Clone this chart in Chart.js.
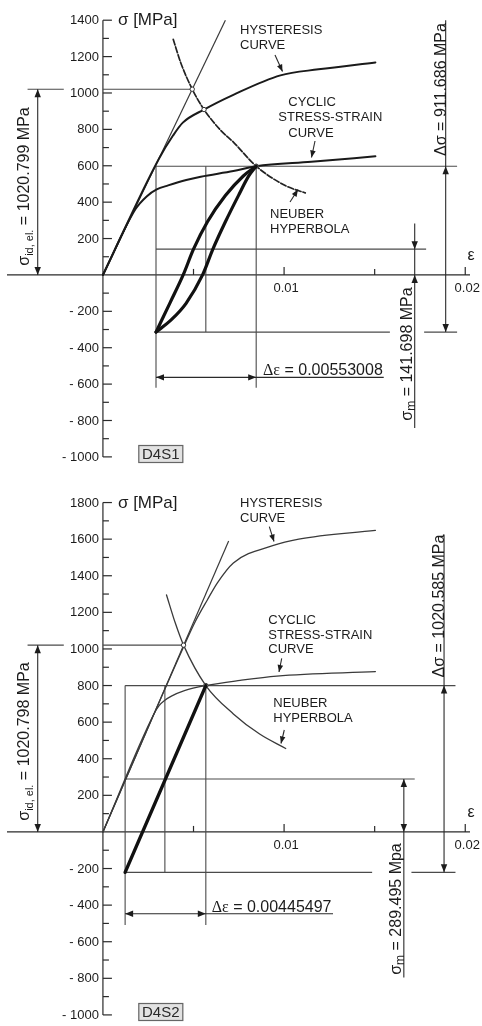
<!DOCTYPE html>
<html>
<head>
<meta charset="utf-8">
<script src="https://cdn.jsdelivr.net/npm/chart.js@4.4.1/dist/chart.umd.min.js"></script>
<style>
  html, body { margin: 0; padding: 0; background: #fff; }
  #wrap { position: relative; width: 482px; height: 1026px; overflow: hidden; background: #fff; }
  canvas { position: absolute; left: 0; }
  #cS1 { top: 0; }
  #cS2 { top: 495px; }
</style>
</head>
<body>
<div id="wrap">
  <canvas id="cS1" width="482" height="495"></canvas>
  <canvas id="cS2" width="482" height="531"></canvas>
</div>
<script>
// ---------- axis ticks (strain ε, stress σ in MPa) ----------
const strainMajorTicks  = [0.01, 0.02];
const strainMajorLabels = ['0.01', '0.02'];
const strainMinorTicks  = [0.005, 0.015];

const stressMajorTicksS1 = [-1000, -800, -600, -400, -200, 200, 400, 600, 800, 1000, 1200, 1400];
const stressMinorTicksS1 = [-900, -700, -500, -300, -100, 100, 300, 500, 700, 900, 1100, 1300];
const stressMajorTicksS2 = [-1000, -800, -600, -400, -200, 200, 400, 600, 800, 1000, 1200, 1400, 1600, 1800];
const stressMinorTicksS2 = [-900, -700, -500, -300, -100, 100, 300, 500, 700, 900, 1100, 1300, 1500, 1700];

// ---------- case D4S1: results ----------
const s1SigmaIdEl   = 1020.799;
const s1DeltaSigma  = 911.686;
const s1SigmaMean   = 141.698;
const s1DeltaEps    = 0.00553008;
const s1EpsMax      = 0.00846;
const s1SigmaMax    = s1SigmaMean + s1DeltaSigma / 2;
const s1SigmaMin    = s1SigmaMean - s1DeltaSigma / 2;
const s1EpsMin      = s1EpsMax - s1DeltaEps;

// ---------- case D4S1: curves [ε, σ] ----------
const s1Elastic    = [[0, 0], [0.00676, 1400]];
const s1Cyclic     = [[0, 0], [0.0018, 362], [0.00243, 433], [0.00297, 470], [0.0036, 492], [0.0046, 522],
                      [0.0054, 540], [0.0072, 571], [s1EpsMax, s1SigmaMax], [0.0115, 622], [0.01504, 652]];
const s1Hysteresis = [[0, 0], [0.0031, 640], [0.00387, 766], [0.00441, 837], [0.00558, 909], [0.0072, 990],
                      [0.0098, 1097], [0.0119, 1130], [0.01504, 1168]];
const s1Neuber     = [[0.00388, 1295], [0.0043, 1165], [0.00493, s1SigmaIdEl], [0.00558, 909], [0.0065, 795],
                      [0.0072, 730], [s1EpsMax, s1SigmaMax], [0.01009, 490], [0.01117, 451]];
const s1LoopLoading   = [[s1EpsMin, s1SigmaMin], [0.00369, -156], [0.00443, 0], [0.005, 141.7], [0.00577, 292],
                         [0.00676, 436], [0.00775, 544], [s1EpsMax, s1SigmaMax]];
const s1LoopUnloading = [[s1EpsMin, s1SigmaMin], [0.00378, -246], [0.00459, -156], [0.0055, 0], [0.00607, 141.7],
                         [0.00676, 292], [0.00748, 436], [0.00805, 544], [s1EpsMax, s1SigmaMax]];
const s1Nodes      = [[0.00493, s1SigmaIdEl], [0.00558, 909], [s1EpsMax, s1SigmaMax]];

// ---------- case D4S2: results ----------
const s2SigmaIdEl   = 1020.798;
const s2DeltaSigma  = 1020.585;
const s2SigmaMean   = 289.495;
const s2DeltaEps    = 0.00445497;
const s2EpsMax      = 0.00568;
const s2SigmaMax    = s2SigmaMean + s2DeltaSigma / 2;
const s2SigmaMin    = s2SigmaMean - s2DeltaSigma / 2;
const s2EpsMin      = s2EpsMax - s2DeltaEps;

// ---------- case D4S2: curves [ε, σ] ----------
const s2Elastic    = [[0, 0], [0.00694, 1590]];
const s2Cyclic     = [[0, 0], [0.0028, 642], [0.0031, 690], [0.0034, 718], [0.00378, 742], [0.0045, 772],
                      [s2EpsMax, s2SigmaMax], [0.00757, 828], [0.0096, 852], [0.01504, 876]];
const s2Hysteresis = [[0, 0], [0.0044, 1000], [0.0051, 1150], [0.00577, 1269], [0.00631, 1360], [0.0072, 1470],
                      [0.00937, 1564], [0.01081, 1600], [0.01504, 1648]];
const s2Neuber     = [[0.00351, 1295], [0.004, 1140], [0.00445, s2SigmaIdEl], [s2EpsMax, s2SigmaMax],
                      [0.0072, 645], [0.00865, 535], [0.01009, 456]];
const s2Loop       = [[s2EpsMin, s2SigmaMin], [s2EpsMax, s2SigmaMax]];
const s2Nodes      = [[0.00445, s2SigmaIdEl], [s2EpsMax, s2SigmaMax]];

// ---------- drawing helpers ----------
const SANS = '"Liberation Sans", Arial, Helvetica, sans-serif';
const SERIF = '"Liberation Serif", "Times New Roman", serif';
const INK = '#1c1c1c';

const toXY = pts => pts.map(p => ({ x: p[0], y: p[1] }));

function curve(pts, width, color, dash) {
  return {
    data: toXY(pts), borderColor: color, borderWidth: width, borderDash: dash || [],
    pointRadius: 0, fill: false, cubicInterpolationMode: 'monotone',
    borderCapStyle: 'round', borderJoinStyle: 'round'
  };
}
function straight(x1, y1, x2, y2, width, color) {
  return {
    data: [{ x: x1, y: y1 }, { x: x2, y: y2 }], borderColor: color, borderWidth: width,
    pointRadius: 0, fill: false, tension: 0, borderCapStyle: 'butt'
  };
}
function nodes(pts) {
  return {
    data: toXY(pts), showLine: false, pointRadius: 2.2, pointBorderWidth: 1,
    pointBackgroundColor: '#ffffff', pointBorderColor: '#333333', borderColor: '#333333'
  };
}

function arrowHead(ctx, tx, ty, dx, dy, len, half) {
  const n = Math.hypot(dx, dy); dx /= n; dy /= n;
  const bx = tx - dx * len, by = ty - dy * len;
  ctx.beginPath();
  ctx.moveTo(tx, ty);
  ctx.lineTo(bx - dy * half, by + dx * half);
  ctx.lineTo(bx + dy * half, by - dx * half);
  ctx.closePath();
  ctx.fill();
}
function line(ctx, x1, y1, x2, y2) {
  ctx.beginPath(); ctx.moveTo(x1, y1); ctx.lineTo(x2, y2); ctx.stroke();
}
// runs of text: [string, font, baseline shift]
function runsWidth(ctx, runs) {
  let w = 0;
  runs.forEach(r => { ctx.font = r[1]; w += ctx.measureText(r[0]).width; });
  return w;
}
function drawRuns(ctx, x, y, runs) {
  runs.forEach(r => { ctx.font = r[1]; ctx.fillText(r[0], x, y + (r[2] || 0)); x += ctx.measureText(r[0]).width; });
}
function drawRunsVertical(ctx, baseX, centerY, runs) {
  ctx.save();
  ctx.translate(baseX, centerY);
  ctx.rotate(-Math.PI / 2);
  ctx.textAlign = 'left'; ctx.textBaseline = 'alphabetic';
  drawRuns(ctx, -runsWidth(ctx, runs) / 2, 0, runs);
  ctx.restore();
}
function callout(ctx, lines, x, y0, step, arrow) {
  ctx.font = '13px ' + SANS; ctx.textAlign = 'left'; ctx.textBaseline = 'alphabetic';
  lines.forEach((t, i) => ctx.fillText(t[0], x + (t[1] || 0), y0 + i * step));
  ctx.lineWidth = 1.1;
  line(ctx, arrow[0], arrow[1], arrow[2], arrow[3]);
  arrowHead(ctx, arrow[2], arrow[3], arrow[2] - arrow[0], arrow[3] - arrow[1], 7, 2.8);
}

// Draws axes (ticks inside, crossing at the origin) and all annotations for one diagram.
const diagramPlugin = {
  id: 'diagram',
  beforeDatasetsDraw(chart, args, o) {
    const ctx = chart.ctx, X = v => chart.scales.x.getPixelForValue(v), Y = v => chart.scales.y.getPixelForValue(v);
    ctx.save();
    ctx.strokeStyle = '#2a2a2a'; ctx.fillStyle = INK; ctx.lineWidth = 1.2;
    // axes
    const x0 = X(0), y0 = Y(0);
    line(ctx, 7, y0, 470, y0);
    line(ctx, x0, Y(o.yAxisTop), x0, Y(o.yAxisBottom));
    // stress ticks
    o.majorY.forEach(v => line(ctx, x0, Y(v), x0 + 9, Y(v)));
    o.minorY.forEach(v => line(ctx, x0, Y(v), x0 + 6, Y(v)));
    ctx.font = '13px ' + SANS; ctx.textAlign = 'right'; ctx.textBaseline = 'middle';
    o.majorY.forEach(v => ctx.fillText(v < 0 ? '- ' + Math.abs(v) : String(v), x0 - 4, Y(v) + 0.5));
    // strain ticks
    strainMajorTicks.forEach(v => line(ctx, X(v), y0, X(v), y0 - 8));
    strainMinorTicks.forEach(v => line(ctx, X(v), y0, X(v), y0 - 6));
    ctx.textAlign = 'center'; ctx.textBaseline = 'top';
    strainMajorTicks.forEach((v, i) => ctx.fillText(strainMajorLabels[i], X(v) + 2, y0 + 7));
    // axis titles
    ctx.font = '17px ' + SANS; ctx.textAlign = 'left'; ctx.textBaseline = 'middle';
    ctx.fillText('σ [MPa]', x0 + 15, Y(o.yAxisTop) + 0.5);
    ctx.font = '16px ' + SANS; ctx.textAlign = 'center';
    ctx.fillText('ε', 471, y0 - 19);
    ctx.restore();
  },
  afterDatasetsDraw(chart, args, o) {
    const ctx = chart.ctx, X = v => chart.scales.x.getPixelForValue(v), Y = v => chart.scales.y.getPixelForValue(v);
    const L = o.layout, V = o.values;
    ctx.save();
    ctx.strokeStyle = '#2a2a2a'; ctx.fillStyle = INK; ctx.lineWidth = 1.1;
    const AL = 8, AW = 3.2;

    // σ_id,el dimension
    const xa = X(L.idElEps);
    line(ctx, xa, Y(V.idEl), xa, Y(0));
    arrowHead(ctx, xa, Y(V.idEl), 0, -1, AL, AW);
    arrowHead(ctx, xa, Y(0), 0, 1, AL, AW);
    drawRunsVertical(ctx, L.idElTextX, L.idElTextY, [
      ['σ', '16px ' + SANS, 0], ['id, el.', '11px ' + SANS, 4], [' = ' + V.idElText + ' MPa', '16px ' + SANS, 0]
    ]);

    // Δσ dimension
    const xd = X(L.dSigmaEps);
    line(ctx, xd, Y(L.dSigmaTop), xd, Y(V.min));
    arrowHead(ctx, xd, Y(V.max), 0, -1, AL, AW);
    arrowHead(ctx, xd, Y(V.min), 0, 1, AL, AW);
    drawRunsVertical(ctx, L.dSigmaTextX, L.dSigmaTextY, [['Δσ = ' + V.dSigmaText + ' MPa', '16px ' + SANS, 0]]);

    // σ_m dimension
    const xm = X(L.meanEps);
    line(ctx, xm, Y(L.meanTop), xm, Y(L.meanBottom));
    if (L.meanOutside) {
      arrowHead(ctx, xm, Y(V.mean), 0, 1, AL, AW);
      arrowHead(ctx, xm, Y(0), 0, -1, AL, AW);
    } else {
      arrowHead(ctx, xm, Y(V.mean), 0, -1, AL, AW);
      arrowHead(ctx, xm, Y(0), 0, 1, AL, AW);
    }
    drawRunsVertical(ctx, L.meanTextX, L.meanTextY, [
      ['σ', '16px ' + SANS, 0], ['m', '12px ' + SANS, 3], [' = ' + V.meanText, '16px ' + SANS, 0]
    ]);

    // Δε dimension
    const ye = Y(L.dEpsSigma);
    line(ctx, X(V.epsMin), ye, X(L.dEpsEnd), ye);
    arrowHead(ctx, X(V.epsMin), ye, -1, 0, AL, AW);
    arrowHead(ctx, X(V.epsMax), ye, 1, 0, AL, AW);
    ctx.textAlign = 'left'; ctx.textBaseline = 'alphabetic';
    drawRuns(ctx, L.dEpsTextX, L.dEpsTextY, [['Δε', '16px ' + SERIF, 0], [' = ' + V.dEpsText, '16px ' + SANS, 0]]);

    // curve call-outs
    callout(ctx, [['HYSTERESIS'], ['CURVE']], L.hyst[0], L.hyst[1], 15, L.hystArrow);
    callout(ctx, L.cyclicLines, L.cyclic[0], L.cyclic[1], L.cyclic[2], L.cyclicArrow);
    callout(ctx, [['NEUBER'], ['HYPERBOLA']], L.neuber[0], L.neuber[1], 15, L.neuberArrow);

    // case tag
    const b = L.tag;
    ctx.fillStyle = '#e2e2e2'; ctx.fillRect(b[0], b[1], 45, 18);
    ctx.strokeStyle = '#666'; ctx.lineWidth = 1.2; ctx.strokeRect(b[0] + 0.5, b[1] + 0.5, 44, 17);
    ctx.fillStyle = '#2a2a2a'; ctx.font = '15px ' + SANS; ctx.textAlign = 'center'; ctx.textBaseline = 'middle';
    ctx.fillText(o.tagText, b[0] + 22.5, b[1] + 9.5);
    ctx.restore();
  }
};

function constructionLines(v, L) {
  const c = '#4a4a4a', w = 1.1;
  return [
    straight(v.epsMin, v.max, L.maxEnd, v.max, w, c),
    straight(v.epsMin, v.min, L.minBreak[0], v.min, w, c),
    straight(L.minBreak[1], v.min, L.maxEnd, v.min, w, c),
    straight(v.epsMin, v.mean, L.meanEnd, v.mean, w, c),
    straight(L.idElFrom, v.idEl, L.idElGap, v.idEl, w, c),
    straight(0, v.idEl, L.idElTo, v.idEl, w, c),
    straight(v.epsMin, v.max, v.epsMin, L.vertBottom, w, c),
    straight(L.midEps, v.max, L.midEps, v.min, w, c),
    straight(v.epsMax, v.max, v.epsMax, L.vertBottom, w, c)
  ];
}

function makeDiagram(canvasId, yMin, yMax, datasets, opts) {
  return new Chart(document.getElementById(canvasId), {
    type: 'line',
    data: { datasets },
    options: {
      responsive: false, animation: false, devicePixelRatio: 1,
      layout: { padding: 0 },
      events: [],
      scales: {
        x: { type: 'linear', display: false, min: -100 / 18500, max: 382 / 18500 },
        y: { type: 'linear', display: false, min: yMin, max: yMax }
      },
      plugins: { legend: { display: false }, tooltip: { enabled: false }, diagram: opts }
    },
    plugins: [diagramPlugin]
  });
}

// ---------- D4S1 ----------
const v1 = { idEl: s1SigmaIdEl, max: s1SigmaMax, min: s1SigmaMin, mean: s1SigmaMean, epsMin: s1EpsMin, epsMax: s1EpsMax,
             idElText: '1020.799', dSigmaText: '911.686', meanText: '141.698 MPa', dEpsText: '0.00553008' };
const L1 = {
  idElEps: -0.0036, idElFrom: -0.00416, idElGap: -0.00216, idElTo: 0.00493,
  idElTextX: 28.5, idElTextY: 186.5,
  dSigmaEps: 0.01892, dSigmaTop: 1400, dSigmaTextX: 446, dSigmaTextY: 89.5,
  meanEps: 0.01721, meanTop: 283, meanBottom: -841, meanOutside: true, meanTextX: 412, meanTextY: 354,
  dEpsSigma: -563, dEpsEnd: 0.0155, dEpsTextX: 263, dEpsTextY: 375,
  maxEnd: 0.01955, minBreak: [0.01584, 0.01773], meanEnd: 0.01784, midEps: 0.00568, vertBottom: -620,
  hyst: [240, 33.5], hystArrow: [275, 55, 282.5, 71.5],
  cyclicLines: [['CYCLIC', 10], ['STRESS-STRAIN', 0], ['CURVE', 10]], cyclic: [278.3, 106, 15.3],
  cyclicArrow: [315, 141, 311.5, 157.5],
  neuber: [270, 218.3], neuberArrow: [290, 202, 298, 189.5],
  tag: [138.3, 445]
};
makeDiagram('cS1', (275.5 - 495) / 0.1857, 275.5 / 0.1857, [
  curve(s1LoopLoading, 3.2, '#111'),
  curve(s1LoopUnloading, 3.2, '#111'),
  nodes(s1Nodes),
  curve(s1Hysteresis, 2, '#1a1a1a'),
  curve(s1Cyclic, 2, '#1a1a1a'),
  curve(s1Neuber, 1.7, '#222', [6, 2]),
  straight(s1Elastic[0][0], s1Elastic[0][1], s1Elastic[1][0], s1Elastic[1][1], 1.2, '#3a3a3a'),
  ...constructionLines(v1, L1)
], { majorY: stressMajorTicksS1, minorY: stressMinorTicksS1, yAxisTop: 1400, yAxisBottom: -1000,
     values: v1, layout: L1, tagText: 'D4S1' });

// ---------- D4S2 ----------
const v2 = { idEl: s2SigmaIdEl, max: s2SigmaMax, min: s2SigmaMin, mean: s2SigmaMean, epsMin: s2EpsMin, epsMax: s2EpsMax,
             idElText: '1020.798', dSigmaText: '1020.585', meanText: '289.495 Mpa', dEpsText: '0.00445497' };
const L2 = {
  idElEps: -0.0036, idElFrom: -0.00416, idElGap: -0.00216, idElTo: 0.00445,
  idElTextX: 28.5, idElTextY: 246.5,
  dSigmaEps: 0.01883, dSigmaTop: 1626, dSigmaTextX: 444, dSigmaTextY: 111,
  meanEps: 0.01661, meanTop: s2SigmaMean, meanBottom: -796, meanOutside: false, meanTextX: 401, meanTextY: 414,
  dEpsSigma: -447, dEpsEnd: 0.0127, dEpsTextX: 211.7, dEpsTextY: 416.5,
  maxEnd: 0.01946, minBreak: [0.01486, 0.01703], meanEnd: 0.01721, midEps: 0.00342, vertBottom: -509,
  hyst: [240, 11.5], hystArrow: [269.3, 31.7, 274, 46.5],
  cyclicLines: [['CYCLIC'], ['STRESS-STRAIN'], ['CURVE']], cyclic: [268.3, 129, 14.7],
  cyclicArrow: [281.7, 163.3, 279, 177],
  neuber: [273.3, 211.7], neuberArrow: [284.3, 235, 281, 248.5],
  tag: [138.3, 508]
};
makeDiagram('cS2', (338.3 - 531) / 0.1865, 338.3 / 0.1865, [
  curve(s2Loop, 3.4, '#111'),
  nodes(s2Nodes),
  curve(s2Hysteresis, 1.3, '#3a3a3a'),
  curve(s2Cyclic, 1.3, '#3a3a3a'),
  curve(s2Neuber, 1.3, '#3a3a3a'),
  straight(s2Elastic[0][0], s2Elastic[0][1], s2Elastic[1][0], s2Elastic[1][1], 1.2, '#3a3a3a'),
  ...constructionLines(v2, L2)
], { majorY: stressMajorTicksS2, minorY: stressMinorTicksS2, yAxisTop: 1800, yAxisBottom: -1000,
     values: v2, layout: L2, tagText: 'D4S2' });
</script>
</body>
</html>
